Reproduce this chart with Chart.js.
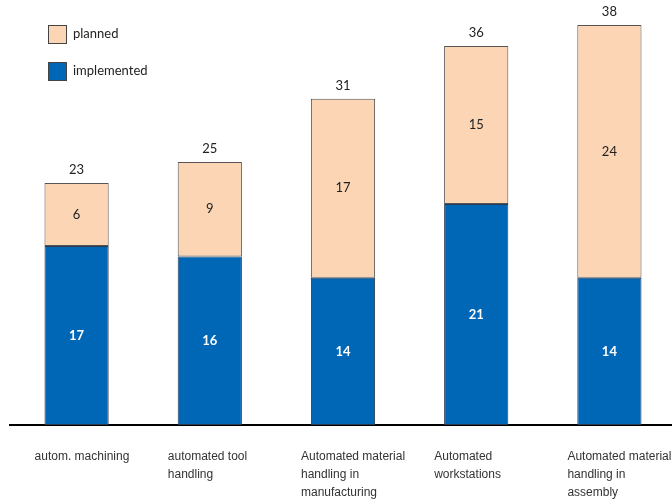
<!DOCTYPE html>
<html>
<head>
<meta charset="utf-8">
<script src="https://cdn.jsdelivr.net/npm/chart.js@4/dist/chart.umd.min.js"></script>
<style>
  html, body { margin: 0; padding: 0; background: #fff; overflow: hidden; }
  #wrap { width: 672px; height: 500px; overflow: hidden; }
</style>
</head>
<body>
<div id="wrap"><canvas id="chart" width="676" height="500"></canvas></div>
<script>
// data
const categories = [
    ["autom. machining"],
    ["automated tool", "handling"],
    ["Automated material", "handling in", "manufacturing"],
    ["Automated", "workstations"],
    ["Automated material", "handling in", "assembly"]
];
const implemented = [17, 16, 14, 21, 14];
const planned = [6, 9, 17, 15, 24];
const seriesNames = ["implemented", "planned"];

const blue = "#0066b6";
const peach = "#fcd5b4";

// labels inside segments, totals on top, category labels and legend
const decorations = {
    id: "decorations",
    afterDatasetsDraw(chart) {
        const ctx = chart.ctx;
        const x = chart.scales.x;
        ctx.save();
        ctx.textAlign = "center";
        ctx.textBaseline = "middle";

        chart.data.datasets.forEach((ds, di) => {
            chart.getDatasetMeta(di).data.forEach((bar, i) => {
                const mid = (bar.y + bar.base) / 2;
                ctx.fillStyle = di === 0 ? "#ffffff" : "#222222";
                ctx.font = (di === 0 ? "bold " : "") + "13px Lato, 'Open Sans', sans-serif";
                ctx.fillText(String(ds.data[i]), bar.x, mid);
            });
        });

        // totals
        ctx.font = "13px Lato, 'Open Sans', sans-serif";
        ctx.fillStyle = "#222222";
        chart.getDatasetMeta(1).data.forEach((bar, i) => {
            ctx.fillText(String(implemented[i] + planned[i]), bar.x, bar.y - 13);
        });

        // category labels, left aligned a bit left of each bar
        ctx.textAlign = "left";
        ctx.font = "12px 'Liberation Sans Narrow', 'Liberation Sans', Arial, sans-serif";
        ctx.fillStyle = "#333333";
        categories.forEach((lines, i) => {
            const cx = x.getPixelForTick(i);
            lines.forEach((line, j) => {
                ctx.fillText(line, cx - 42, 457 + j * 18);
            });
        });

        // legend
        ctx.font = "13px Lato, 'Open Sans', sans-serif";
        const items = [[seriesNames[1], peach, 34], [seriesNames[0], blue, 71]];
        items.forEach(([name, col, y]) => {
            ctx.fillStyle = col;
            ctx.fillRect(48, y - 9, 18, 18);
            ctx.strokeStyle = "#444444";
            ctx.lineWidth = 1;
            ctx.strokeRect(48.5, y - 8.5, 18, 18);
            ctx.fillStyle = "#222222";
            ctx.fillText(name, 73, y);
        });
        ctx.restore();
    }
};

new Chart(document.getElementById("chart"), {
    type: "bar",
    data: {
        labels: categories,
        datasets: [
            {
                label: seriesNames[0],
                data: implemented,
                backgroundColor: blue,
                borderColor: "#2a3a50",
                borderWidth: 1,
                borderSkipped: false
            },
            {
                label: seriesNames[1],
                data: planned,
                backgroundColor: peach,
                borderColor: "#555555",
                borderWidth: 1,
                borderSkipped: false
            }
        ]
    },
    options: {
        responsive: false,
        animation: false,
        devicePixelRatio: 1,
        layout: { padding: { left: 10, right: 0, top: 4, bottom: 75 } },
        plugins: {
            legend: { display: false },
            tooltip: { enabled: false }
        },
        datasets: {
            bar: { categoryPercentage: 1, barPercentage: 0.482 }
        },
        scales: {
            x: {
                stacked: true,
                grid: { display: false, drawTicks: false },
                border: { display: true, color: "#000000", width: 2 },
                ticks: { display: false }
            },
            y: {
                stacked: true,
                display: false,
                min: 0,
                max: 40
            }
        }
    },
    plugins: [decorations]
});
</script>
</body>
</html>
